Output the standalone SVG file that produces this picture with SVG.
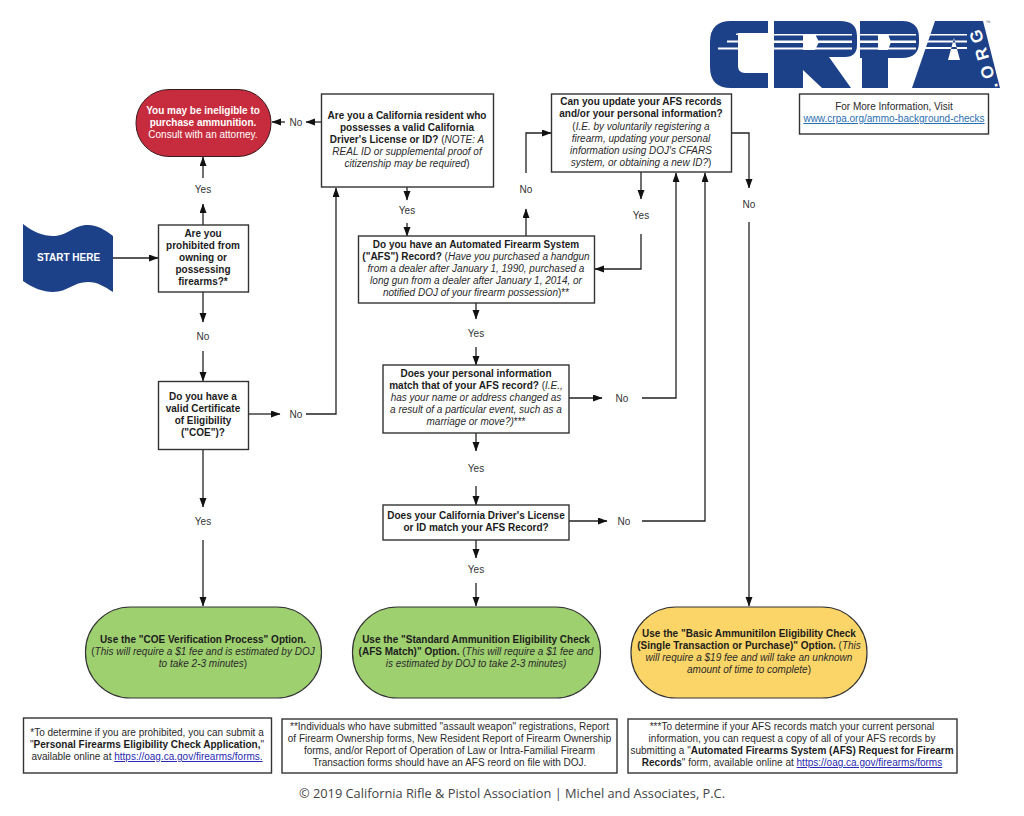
<svg xmlns="http://www.w3.org/2000/svg" width="1024" height="816" viewBox="0 0 1024 816">
<style>
text{font-family:"Liberation Sans",Arial,sans-serif;font-size:10px;fill:#2a2a2a;text-anchor:middle}
.b{font-weight:bold;fill:#1c1c1c}
.i{font-style:italic}
.box{fill:#fff;stroke:#333;stroke-width:1.4}
.c{fill:none;stroke:#222;stroke-width:1.3}
.w{fill:#fff}
.lk{fill:#2a2ab0;text-decoration:underline}
.lb{fill:#2a6fb0;text-decoration:underline}
.lbl{fill:#333}
.term{stroke:#333;stroke-width:1.2}
</style>
<defs>
<marker id="a" markerUnits="userSpaceOnUse" markerWidth="10" markerHeight="8" refX="9" refY="3.500" orient="auto"><path d="M0 0L9.500 3.500L0 7Z" fill="#111"/></marker>
</defs>

<g id="logo">
<path fill="#1d4189" d="M768 21H731Q710 21 710 42V67Q710 88 731 88H768V73H745Q738 73 738 66V33H768Z"/>
<path fill="#1d4189" d="M774 21H840Q857 21 857 36V45Q857 57 845 57H829L851 88H822L803 70V88H774Z"/>
<path fill="#1d4189" d="M860 21H902Q919 21 919 38V42Q919 58 902 58H888V88H862V58H860Z"/>
<path fill="#1d4189" d="M935 21H983L1000 88H912Z"/>
<path fill="#fff" d="M736 33.500H738V35H736ZM727 40.500H738V42.500H727ZM718 47.500H738V49.500H718Z"/>
<path fill="#fff" d="M774 34H852V35.500H774ZM774 40.500H852V43H774ZM774 47.500H852V49.500H774ZM803 34H815L819 42L815 50H803Z"/>
<path fill="#fff" d="M860 34H916V35.500H860ZM860 40.500H916V43H860ZM860 47.500H916V49.500H860ZM878 34H888L891 42L888 50H878Z"/>
<path fill="#fff" d="M928 34H967V35.500H928ZM926 40.500H967V42.500H926ZM924 47H967V49H924ZM954 38L948 60H960Z"/>
<text transform="translate(998,87) rotate(-107)" style="font-size:17px;font-weight:bold;fill:#fff;letter-spacing:6px;text-anchor:start">.ORG</text>
<text x="988" y="24" style="font-size:5px;fill:#555">™</text>
</g>

<g id="connectors">
<path class="c" marker-end="url(#a)" d="M113 258H158"/>
<path class="c" marker-end="url(#a)" d="M203 225V204"/>
<path class="c" marker-end="url(#a)" d="M203 178V157"/>
<path class="c" marker-end="url(#a)" d="M203 292V322"/>
<path class="c" marker-end="url(#a)" d="M203 351V381"/>
<path class="c" marker-end="url(#a)" d="M248 414H280"/>
<path class="c" marker-end="url(#a)" d="M306 414H336V188"/>
<path class="c" marker-end="url(#a)" d="M203 449V507"/>
<path class="c" marker-end="url(#a)" d="M203 540V606"/>
<path class="c" marker-end="url(#a)" d="M321 122H306"/>
<path class="c" marker-end="url(#a)" d="M285 122H272"/>
<path class="c" marker-end="url(#a)" d="M407 187V200"/>
<path class="c" marker-end="url(#a)" d="M407 223V236"/>
<path class="c" marker-end="url(#a)" d="M526 236V209"/>
<path class="c" marker-end="url(#a)" d="M526 173V133H551"/>
<path class="c" marker-end="url(#a)" d="M641 172V199"/>
<path class="c" marker-end="url(#a)" d="M641 234V269H595"/>
<path class="c" marker-end="url(#a)" d="M731 133H749V188"/>
<path class="c" marker-end="url(#a)" d="M749 222V606"/>
<path class="c" marker-end="url(#a)" d="M476 303V319"/>
<path class="c" marker-end="url(#a)" d="M476 347V365"/>
<path class="c" marker-end="url(#a)" d="M569 398H602"/>
<path class="c" marker-end="url(#a)" d="M642 398H676V173"/>
<path class="c" marker-end="url(#a)" d="M476 433V451"/>
<path class="c" marker-end="url(#a)" d="M476 486V505"/>
<path class="c" marker-end="url(#a)" d="M569 521H607"/>
<path class="c" marker-end="url(#a)" d="M642 521H705V173"/>
<path class="c" marker-end="url(#a)" d="M476 540V558"/>
<path class="c" marker-end="url(#a)" d="M476 583V606"/>
<text class="lbl" x="203" y="193">Yes</text>
<text class="lbl" x="203" y="340">No</text>
<text class="lbl" x="296" y="418">No</text>
<text class="lbl" x="203" y="525">Yes</text>
<text class="lbl" x="296" y="126">No</text>
<text class="lbl" x="407" y="214">Yes</text>
<text class="lbl" x="526" y="193">No</text>
<text class="lbl" x="641" y="219">Yes</text>
<text class="lbl" x="749" y="208">No</text>
<text class="lbl" x="476" y="337">Yes</text>
<text class="lbl" x="622" y="402">No</text>
<text class="lbl" x="476" y="472">Yes</text>
<text class="lbl" x="624" y="525">No</text>
<text class="lbl" x="476" y="573">Yes</text>
</g>

<g id="node-ineligible">
<rect x="136" y="89.500" width="135" height="67" rx="33" fill="#c62c3d" stroke="#3a1a1e" stroke-width="1"/>
<text class="b w" x="203" y="113.500">You may be ineligible to</text>
<text class="b w" x="203" y="125.500">purchase ammunition.</text>
<text class="w" x="203" y="137.500">Consult with an attorney.</text>
</g>
<g id="node-start">
<path d="M23 224C33 232 43 236 53 236C68 236 73 225 88 225C98 225 105 230 113 236V292C105 287 98 282 88 282C73 282 68 292 53 292C43 292 33 288 23 281Z" fill="#1d4189"/>
<text class="b w" x="68.500" y="261">START HERE</text>
</g>
<g id="node-prohibited">
<rect class="box" x="158.500" y="225" width="90" height="67"/>
<text class="b" x="203" y="236.500">Are you</text>
<text class="b" x="203" y="248.700">prohibited from</text>
<text class="b" x="203" y="260.900">owning or</text>
<text class="b" x="203" y="273.100">possessing</text>
<text class="b" x="203" y="285.300">firearms?*</text>
</g>
<g id="node-coe">
<rect class="box" x="158.500" y="381.500" width="90" height="68"/>
<text class="b" x="203" y="400">Do you have a</text>
<text class="b" x="203" y="412">valid Certificate</text>
<text class="b" x="203" y="424">of Eligibility</text>
<text class="b" x="203" y="436">("COE")?</text>
</g>
<g id="node-resident">
<rect class="box" x="321.500" y="94" width="172" height="93"/>
<text class="b" x="407" y="119">Are you a California resident who</text>
<text class="b" x="407" y="131">possesses a valid California</text>
<text x="407" y="143"><tspan class="b">Driver's License or ID?</tspan> (<tspan class="i">NOTE: A</tspan></text>
<text class="i" x="407" y="155">REAL ID or supplemental proof of</text>
<text x="407" y="167"><tspan class="i">citizenship may be required</tspan>)</text>
</g>
<g id="node-update">
<rect class="box" x="551.500" y="94" width="180" height="78"/>
<text class="b" x="641" y="105">Can you update your AFS records</text>
<text class="b" x="641" y="117">and/or your personal information?</text>
<text x="641" y="130">(<tspan class="i">I.E. by voluntarily registering a</tspan></text>
<text class="i" x="641" y="142">firearm, updating your personal</text>
<text class="i" x="641" y="154">information using DOJ's CFARS</text>
<text x="641" y="166"><tspan class="i">system, or obtaining a new ID?</tspan>)</text>
</g>
<g id="node-afs">
<rect class="box" x="358.500" y="236" width="236" height="67"/>
<text class="b" x="476" y="248">Do you have an Automated Firearm System</text>
<text x="476" y="260"><tspan class="b">("AFS") Record?</tspan> (<tspan class="i">Have you purchased a handgun</tspan></text>
<text class="i" x="476" y="272">from a dealer after January 1, 1990, purchased a</text>
<text class="i" x="476" y="284">long gun from a dealer after January 1, 2014, or</text>
<text x="476" y="296"><tspan class="i">notified DOJ of your firearm possession</tspan>)**</text>
</g>
<g id="node-personal">
<rect class="box" x="383" y="365" width="186" height="68"/>
<text class="b" x="476" y="377">Does your personal information</text>
<text x="476" y="389"><tspan class="b">match that of your AFS record?</tspan> (<tspan class="i">I.E.,</tspan></text>
<text class="i" x="476" y="401">has your name or address changed as</text>
<text class="i" x="476" y="413">a result of a particular event, such as a</text>
<text x="476" y="425"><tspan class="i">marriage or move?)</tspan>***</text>
</g>
<g id="node-license">
<rect class="box" x="383" y="505" width="186" height="35"/>
<text class="b" x="476" y="519">Does your California Driver's License</text>
<text class="b" x="476" y="531">or ID match your AFS Record?</text>
</g>
<g id="node-coe-option">
<rect class="term" x="85.500" y="607" width="236" height="91" rx="45" fill="#9fd070"/>
<text class="b" x="203" y="643">Use the "COE Verification Process" Option.</text>
<text x="203" y="655">(<tspan class="i">This will require a $1 fee and is estimated by DOJ</tspan></text>
<text x="203" y="667"><tspan class="i">to take 2-3 minutes</tspan>)</text>
</g>
<g id="node-standard-option">
<rect class="term" x="352.500" y="607" width="248" height="91" rx="45" fill="#9fd070"/>
<text class="b" x="476" y="643">Use the "Standard Ammunition Eligibility Check</text>
<text x="476" y="655"><tspan class="b">(AFS Match)" Option.</tspan> (<tspan class="i">This will require a $1 fee and</tspan></text>
<text class="i" x="476" y="667">is estimated by DOJ to take 2-3 minutes)</text>
</g>
<g id="node-basic-option">
<rect class="term" x="631" y="607" width="236" height="91" rx="45" fill="#fbd568"/>
<text class="b" x="749" y="637">Use the "Basic Ammunitilon Eligibility Check</text>
<text x="749" y="649"><tspan class="b">(Single Transaction or Purchase)" Option.</tspan> (<tspan class="i">This</tspan></text>
<text class="i" x="749" y="661">will require a $19 fee and will take an unknown</text>
<text x="749" y="673"><tspan class="i">amount of time to complete</tspan>)</text>
</g>
<g id="note-info">
<rect class="box" x="799.500" y="94" width="189" height="40"/>
<text x="894" y="110">For More Information, Visit</text>
<text class="lb" x="894" y="122">www.crpa.org/ammo-background-checks</text>
</g>
<g id="note-1">
<rect class="box" x="23.500" y="718" width="248" height="55"/>
<text x="147" y="736">*To determine if you are prohibited, you can submit a</text>
<text x="147" y="748">"<tspan class="b">Personal Firearms Eligibility Check Application,</tspan>"</text>
<text x="147" y="760">available online at <tspan class="lk">https://oag.ca.gov/firearms/forms.</tspan></text>
</g>
<g id="note-2">
<rect class="box" x="282" y="719" width="335" height="54"/>
<text x="449.500" y="730">**Individuals who have submitted "assault weapon" registrations, Report</text>
<text x="449.500" y="742">of Firearm Ownership forms, New Resident Report of Firearm Ownership</text>
<text x="449.500" y="754">forms, and/or Report of Operation of Law or Intra-Familial Firearm</text>
<text x="449.500" y="766">Transaction forms should have an AFS reord on file with DOJ.</text>
</g>
<g id="note-3">
<rect class="box" x="628" y="719" width="329" height="54"/>
<text x="792" y="730">***To determine if your AFS records match your current personal</text>
<text x="792" y="742">information, you can request a copy of all of your AFS records by</text>
<text x="792" y="754">submitting a "<tspan class="b">Automated Firearms System (AFS) Request for Firearm</tspan></text>
<text x="792" y="766"><tspan class="b">Records</tspan>" form, available online at <tspan class="lk">https://oag.ca.gov/firearms/forms</tspan></text>
</g>
<text id="copyright" x="512" y="798" style="font-family:'Open Sans',sans-serif;font-size:12.800px;fill:#444">© 2019 California Rifle &amp; Pistol Association | Michel and Associates, P.C.</text>
</svg>
